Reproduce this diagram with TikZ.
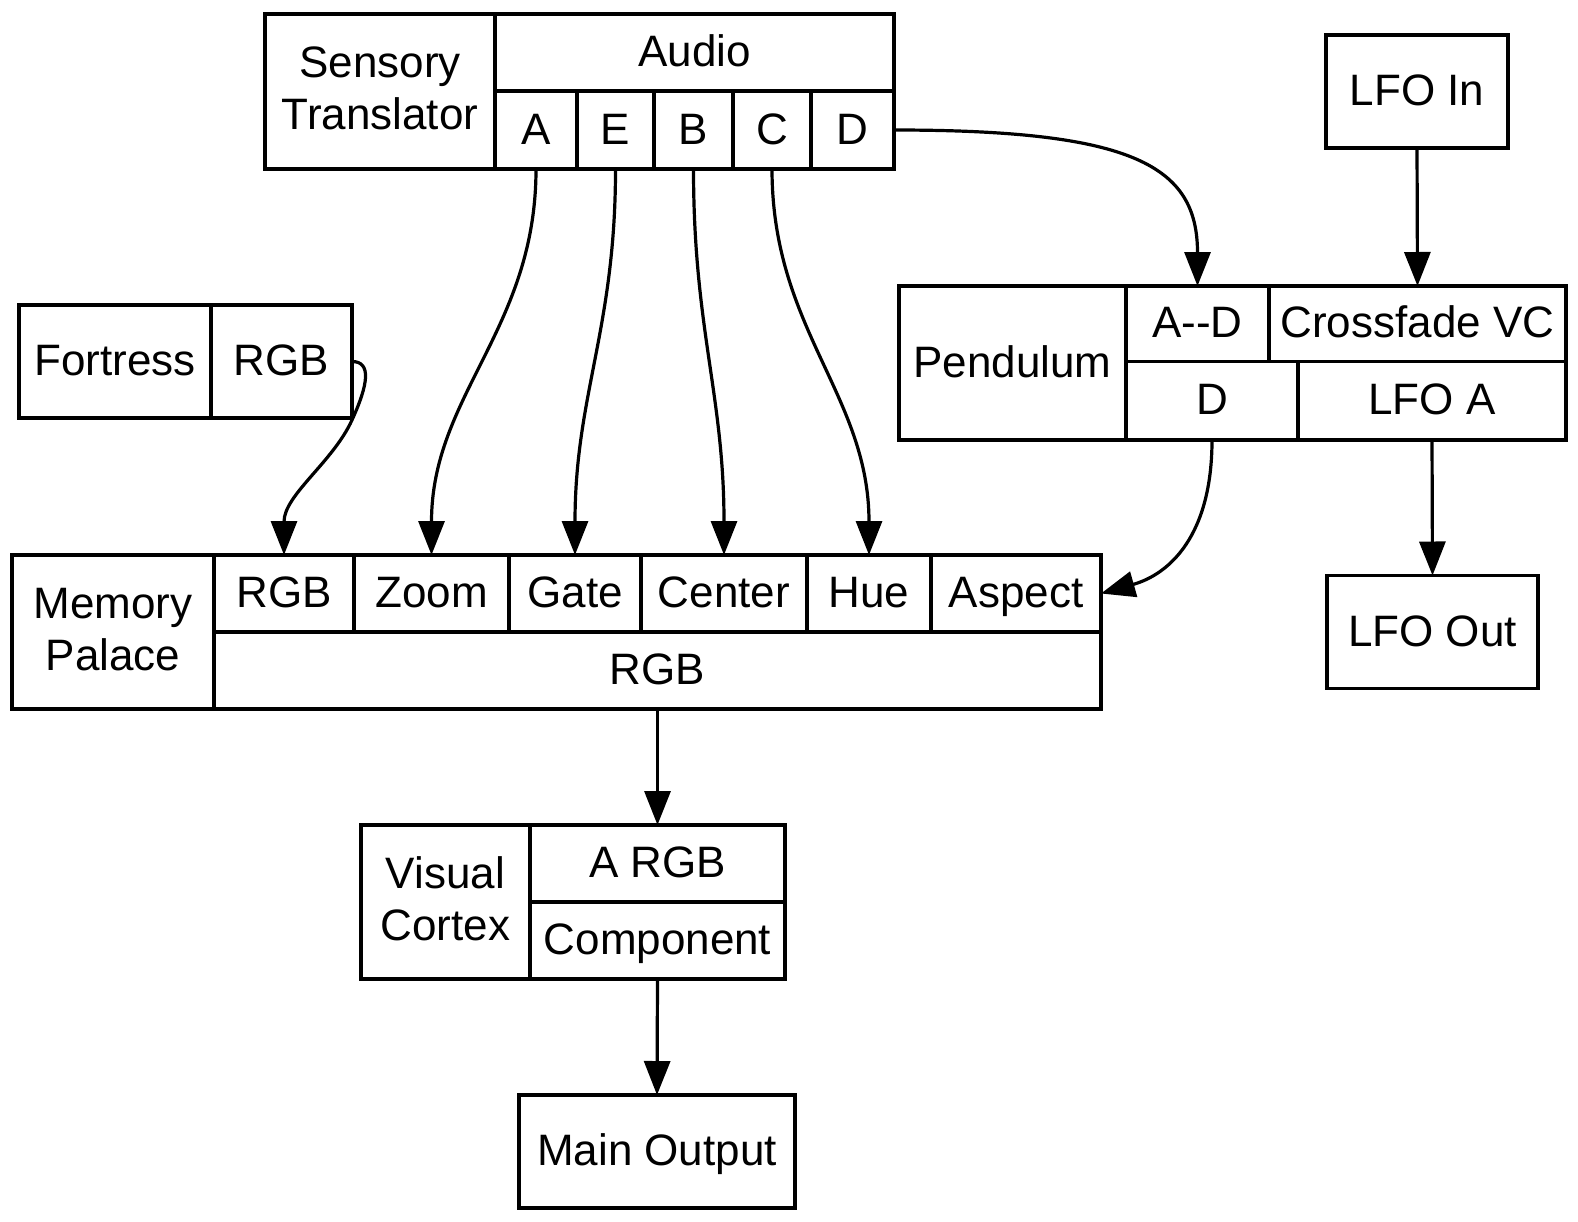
\documentclass[tikz,border=0pt]{standalone}
\usepackage{fontspec}
\setmainfont{Liberation Sans}
\usetikzlibrary{arrows.meta}
\begin{document}
\begin{tikzpicture}[x=1pt,y=-1pt,
  base/.style={draw, line width=3.2pt, line join=miter, inner sep=0pt, outer sep=0pt, font=\fontsize{44pt}{52pt}\selectfont},
  one/.style={base, text height=34pt, text depth=6pt},
  multi/.style={base, align=center, text depth=6pt},
  wire/.style={line width=3.2pt, -{Triangle[length=34pt,width=26pt]}}]
\useasboundingbox[fill=white] (0,0) rectangle (1578,1221);

% Sensory Translator
\node[multi, minimum width=230pt, minimum height=155pt] (stName) at (380,91.5) {Sensory\\Translator};
\node[one, minimum width=399pt, minimum height=77pt] (stAudio) at (694.5,52.5) {Audio};
\node[one, minimum width=82pt, minimum height=78pt] (stA) at (536,130) {A};
\node[one, minimum width=77pt, minimum height=78pt] (stE) at (615.5,130) {E};
\node[one, minimum width=79pt, minimum height=78pt] (stB) at (693.5,130) {B};
\node[one, minimum width=78pt, minimum height=78pt] (stC) at (772,130) {C};
\node[one, minimum width=83pt, minimum height=78pt] (stD) at (852.5,130) {D};

% LFO In
\node[one, minimum width=182pt, minimum height=113pt] (lfoIn) at (1417,91.5) {LFO In};

% Fortress
\node[one, minimum width=192pt, minimum height=113pt] (frName) at (115,361.5) {Fortress};
\node[one, minimum width=141pt, minimum height=113pt] (frRGB) at (281.5,361.5) {RGB};

% Pendulum
\node[one, minimum width=227pt, minimum height=154pt] (pdName) at (1012.5,363) {Pendulum};
\node[one, minimum width=143pt, minimum height=75.5pt] (pdAD) at (1197.5,323.75) {A-{}-D};
\node[one, minimum width=297pt, minimum height=75.5pt] (pdXfade) at (1417.5,323.75) {Crossfade VC};
\node[one, minimum width=172pt, minimum height=78.5pt] (pdD) at (1212,400.75) {D};
\node[one, minimum width=268pt, minimum height=78.5pt] (pdLFOA) at (1432,400.75) {LFO A};

% Memory Palace
\node[multi, minimum width=202pt, minimum height=154pt] (mpName) at (113,632) {Memory\\Palace};
\node[one, minimum width=140pt, minimum height=77pt] (mpRGB) at (284,593.5) {RGB};
\node[one, minimum width=155pt, minimum height=77pt] (mpZoom) at (431.5,593.5) {Zoom};
\node[one, minimum width=132pt, minimum height=77pt] (mpGate) at (575,593.5) {Gate};
\node[one, minimum width=166pt, minimum height=77pt] (mpCenter) at (724,593.5) {Center};
\node[one, minimum width=124pt, minimum height=77pt] (mpHue) at (869,593.5) {Hue};
\node[one, minimum width=170pt, minimum height=77pt] (mpAspect) at (1016,593.5) {Aspect};
\node[one, minimum width=887pt, minimum height=77pt] (mpOut) at (657.5,670.5) {RGB};

% LFO Out
\node[one, minimum width=211pt, minimum height=113pt] (lfoOut) at (1432.5,632) {LFO Out};

% Visual Cortex
\node[multi, minimum width=169pt, minimum height=154pt] (vcName) at (445.5,902) {Visual\\Cortex};
\node[one, minimum width=255pt, minimum height=77pt] (vcARGB) at (657.5,863.5) {A RGB};
\node[one, minimum width=255pt, minimum height=77pt] (vcComp) at (657.5,940.5) {Component};

% Main Output
\node[one, minimum width=276pt, minimum height=113pt] (mainOut) at (657,1151.5) {Main Output};

% connectors
\draw[wire] (stA.south) .. controls (536,329) and (431.5,395) .. (mpZoom.north);
\draw[wire] (stE.south) .. controls (615.5,329) and (575,395) .. (mpGate.north);
\draw[wire] (stB.south) .. controls (693.5,329) and (724,395) .. (mpCenter.north);
\draw[wire] (stC.south) .. controls (772,329) and (869,395) .. (mpHue.north);
\draw[wire] (stD.east) .. controls (1134,130) and (1197.5,166) .. (pdAD.north);
\draw[wire] (frRGB.east) .. controls (372,361.5) and (368,385) .. (352,420) .. controls (333,462) and (284,495) .. (mpRGB.north);
\draw[wire] (pdD.south) .. controls (1212,535) and (1170,574) .. (mpAspect.east);
\draw[wire] (lfoIn.south) -- (pdXfade.north);
\draw[wire] (pdLFOA.south) -- (lfoOut.north);
\draw[wire] (mpOut.south) -- (vcARGB.north);
\draw[wire] (vcComp.south) -- (mainOut.north);
\end{tikzpicture}
\end{document}
